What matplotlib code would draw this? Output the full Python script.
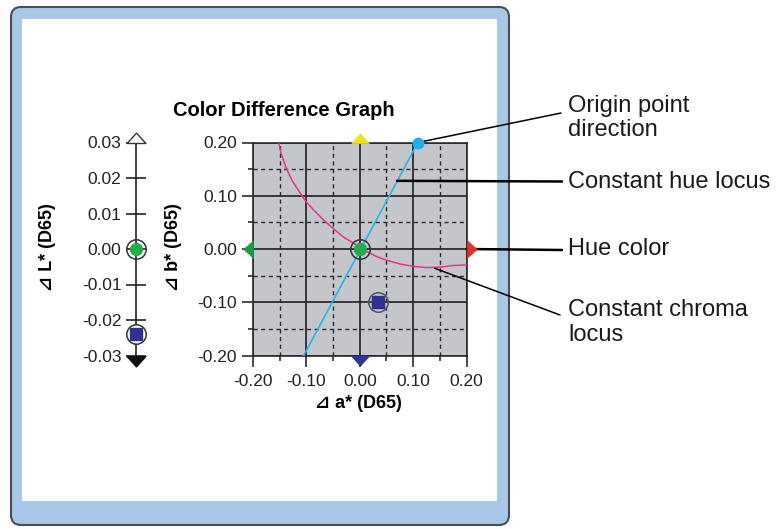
import matplotlib.pyplot as plt
import matplotlib.patches as mpatches
import matplotlib.transforms as mtransforms
from matplotlib.ticker import MultipleLocator, FormatStrFormatter, FixedLocator

plt.rcParams['font.family'] = ['Liberation Sans', 'DejaVu Sans']
plt.rcParams['axes.unicode_minus'] = False

# ---- data ----
L_ticks = [0.03, 0.02, 0.01, 0.00, -0.01, -0.02, -0.03]
ab_ticks = [-0.20, -0.10, 0.00, 0.10, 0.20]

target_L = 0.0
sample_L = -0.024
target_a, target_b = 0.0, 0.0
sample_a, sample_b = 0.035, -0.10

# constant hue locus (through origin) and origin point direction
hue_a = [-0.105, 0.109]
hue_b = [-0.20, 0.20]
origin_dir_a, origin_dir_b = 0.109, 0.20

# constant chroma locus
chroma_a = [-0.152, -0.1475, -0.139, -0.127, -0.111, -0.10, -0.086, -0.0675,
            -0.049, -0.030, -0.014, 0.0, 0.0156, 0.031, 0.05, 0.075, 0.10,
            0.125, 0.15, 0.175, 0.20]
chroma_b = [0.20, 0.180, 0.155, 0.129, 0.104, 0.088, 0.073, 0.054,
            0.038, 0.022, 0.0126, 0.004, -0.006, -0.014, -0.021, -0.028,
            -0.0325, -0.035, -0.034, -0.031, -0.030]

# hue colour indicators on the plot edges: (a, b, colour)
hue_marks = [(0.0, 0.20, '#f2e21e'),
             (0.0, -0.20, '#2e3592'),
             (-0.20, 0.0, '#1c9a48'),
             (0.20, 0.0, '#e3302b')]

callouts = ['Origin point\ndirection', 'Constant hue locus', 'Hue color',
            'Constant chroma\nlocus']

W, H = 777, 529
fig = plt.figure(figsize=(W / 100, H / 100), dpi=100)


def box(x0, top, x1, bottom):
    # pixel box (y measured from top) -> figure fraction
    return [x0 / W, 1 - bottom / H, (x1 - x0) / W, (bottom - top) / H]


# ---- window frame ----
ident = mtransforms.IdentityTransform()
outer = mpatches.FancyBboxPatch((11, H - 525), 498, 518,
                                boxstyle='round,pad=0,rounding_size=10',
                                fc='#a9c8e8', ec='#4d4d4d', lw=1.5,
                                transform=ident, zorder=-5)
inner = mpatches.Rectangle((22, H - 501), 475, 482, fc='white', ec='none',
                           transform=ident, zorder=-4)
fig.add_artist(outer)
fig.add_artist(inner)

fig.text(284 / W, 1 - 110 / H, 'Color Difference Graph', ha='center',
         va='center', fontsize=14.5, fontweight='bold')


def tri(direction):
    d = {'up': [(-0.9, 0), (0.9, 0), (0, 1), (-0.9, 0)],
         'down': [(-0.9, 0), (0.9, 0), (0, -1), (-0.9, 0)],
         'left': [(0, -0.9), (0, 0.9), (-1, 0), (0, -0.9)],
         'right': [(0, -0.9), (0, 0.9), (1, 0), (0, -0.9)]}
    return d[direction]


# ---- main a*b* plot ----
ax = fig.add_axes(box(253, 142.5, 466.5, 355.5))
ax.set_xlim(-0.2, 0.2)
ax.set_ylim(-0.2, 0.2)
ax.set_facecolor('#c4c6cc')
ax.xaxis.set_major_locator(FixedLocator(ab_ticks))
ax.yaxis.set_major_locator(FixedLocator(ab_ticks))
ax.xaxis.set_minor_locator(MultipleLocator(0.05))
ax.yaxis.set_minor_locator(MultipleLocator(0.05))
ax.xaxis.set_major_formatter(FormatStrFormatter('%.2f'))
ax.yaxis.set_major_formatter(FormatStrFormatter('%.2f'))
ax.set_axisbelow(True)
ax.grid(which='major', color='#2b2b2b', lw=1.3, ls='-')
ax.grid(which='minor', color='#2b2b2b', lw=1.0, ls=(0, (3, 2.5)))
ax.tick_params(which='major', direction='out', length=8, width=1.2,
               color='#2b2b2b', labelsize=12.5, labelcolor='#222222')
ax.tick_params(axis='y', which='major', pad=3.5)
ax.tick_params(axis='x', which='major', pad=5)
ax.tick_params(which='minor', direction='out', length=3.5, width=1.2,
               color='#2b2b2b')
for s in ax.spines.values():
    s.set_color('#2b2b2b')
    s.set_linewidth(1.2)

ax.plot(chroma_a, chroma_b, color='#e5358d', lw=1.1, zorder=3)
ax.plot(hue_a, hue_b, color='#2ab4e6', lw=1.2, zorder=3)
ax.plot(origin_dir_a, origin_dir_b, 'o', color='#1eb0ea', ms=7.5,
        clip_on=False, zorder=6)

ax.plot(target_a, target_b, 'o', mfc='none', mec='#333333', mew=1.1,
        ms=14, zorder=4)
ax.plot(target_a, target_b, 'o', color='#1fae4b', ms=8.5, zorder=5)
ax.plot(sample_a, sample_b, 'o', mfc='none', mec='#555555', mew=1.1,
        ms=14, zorder=4)
ax.plot(sample_a, sample_b, 's', color='#2e3192', ms=8.5, zorder=5)

dirs = ['up', 'down', 'left', 'right']
for (a, b, c), d in zip(hue_marks, dirs):
    ax.plot(a, b, marker=tri(d), ms=14, mfc=c, mec=c, mew=0.5,
            clip_on=False, zorder=7)

fig.text(358 / W, 1 - 403 / H, '\u22bf a* (D65)', ha='center', va='center',
         fontsize=13, fontweight='bold')
fig.text(174 / W, 1 - 247 / H, '\u22bf b* (D65)', ha='center', va='center',
         fontsize=13, fontweight='bold', rotation=90)

# ---- L* bar ----
axL = fig.add_axes(box(96, 142.5, 176, 355.5))
axL.set_xlim(-1, 1)
axL.set_ylim(-0.03, 0.03)
axL.patch.set_visible(False)
for k in ['top', 'right', 'bottom']:
    axL.spines[k].set_visible(False)
axL.spines['left'].set_position(('data', 0))
axL.spines['left'].set_color('#222222')
axL.spines['left'].set_linewidth(1.2)
axL.set_xticks([])
axL.set_yticks(L_ticks)
axL.yaxis.set_major_formatter(FormatStrFormatter('%.2f'))
axL.tick_params(axis='y', direction='inout', length=15, width=1.2,
                color='#222222', labelsize=12.5, labelcolor='#222222', pad=3)

axL.plot(0, max(L_ticks), marker=tri('up'), ms=15, mfc='white',
         mec='#333333', mew=1, clip_on=False, zorder=6)
axL.plot(0, min(L_ticks), marker=tri('down'), ms=15, mfc='#111111',
         mec='#111111', mew=1, clip_on=False, zorder=6)
axL.plot(0, target_L, 'o', mfc='none', mec='#333333', mew=1.1, ms=14,
         clip_on=False, zorder=4)
axL.plot(0, target_L, 'o', color='#1fae4b', ms=8.5, clip_on=False, zorder=5)
axL.plot(0, sample_L, 'o', mfc='white', mec='#333333', mew=1.1, ms=14,
         clip_on=False, zorder=4)
axL.plot(0, sample_L, 's', color='#2e3192', ms=8.5, clip_on=False, zorder=5)

fig.text(48 / W, 1 - 247 / H, '\u22bf L* (D65)', ha='center', va='center',
         fontsize=13, fontweight='bold', rotation=90)

# ---- callouts ----
anchors = [(origin_dir_a, origin_dir_b), (0.07, 0.128), (0.20, 0.0),
           (0.14, -0.036)]
ends = [(561, 113), (562, 181.5), (562, 250), (560, 315)]
widths = [1.1, 1.8, 1.8, 1.1]
text_y = [118, 181.5, 249, 322.5]
for lab, xy, e, lw, ty in zip(callouts, anchors, ends, widths, text_y):
    ax.annotate('', xy=xy, xycoords='data', xytext=(e[0], H - e[1]),
                textcoords='figure pixels', annotation_clip=False,
                arrowprops=dict(arrowstyle='-', lw=lw, color='black',
                                shrinkA=0, shrinkB=0))
    fig.text(568 / W, 1 - ty / H, lab, ha='left', va='center',
             fontsize=17, color='#1a1a1a', linespacing=1.12)

fig.savefig('out.png', dpi=100)
